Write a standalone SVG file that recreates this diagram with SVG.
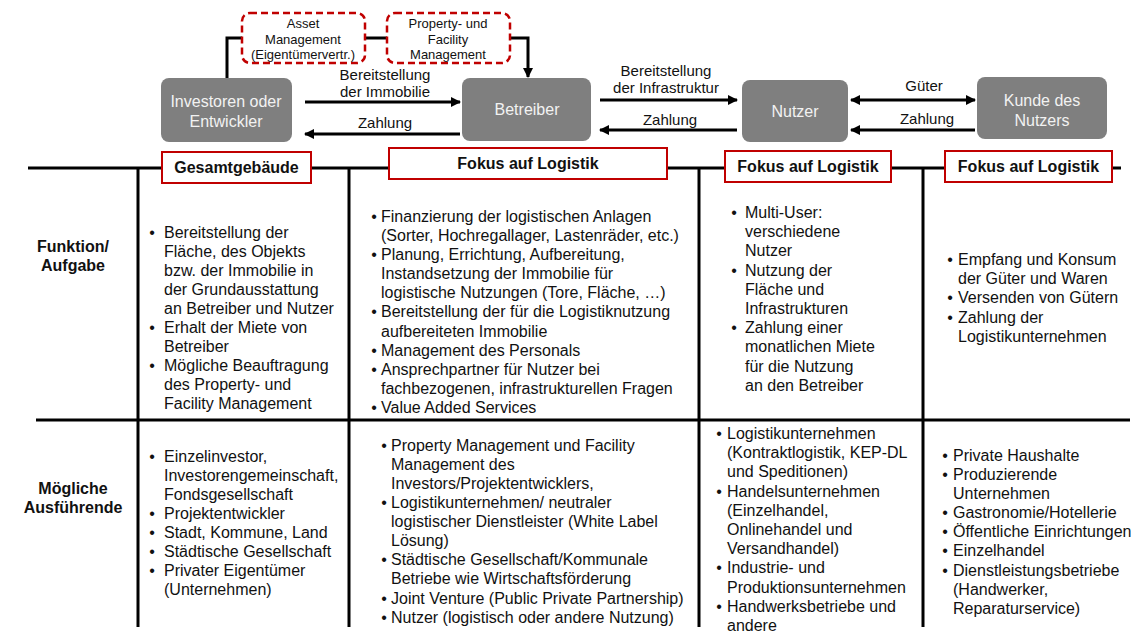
<svg xmlns="http://www.w3.org/2000/svg" width="1136" height="643" viewBox="0 0 1136 643">
<defs>
<marker id="ah" viewBox="0 0 10 10" refX="9" refY="5" markerWidth="3.4" markerHeight="3.4" orient="auto-start-reverse" markerUnits="strokeWidth">
<path d="M0,0 L10,5 L0,10 z" fill="#000"/>
</marker>
<style>
text{font-family:"Liberation Sans",Arial,sans-serif}
.node{fill:#7f7f7f}
.nt{font-size:16px;fill:#f2f2f2;text-anchor:middle}
.dash{fill:#fff;stroke:#c00000;stroke-width:2.5;stroke-dasharray:7 4}
.dt{font-size:13px;fill:#111;text-anchor:middle}
.lab{font-size:15px;fill:#111;text-anchor:middle}
.conn{fill:none;stroke:#000;stroke-width:3}
.grid{fill:none;stroke:#000;stroke-width:3}
.hbox{fill:#fff;stroke:#c00000;stroke-width:2}
.ht{font-size:16px;font-weight:bold;fill:#111;text-anchor:middle}
.rl{font-size:16px;font-weight:bold;fill:#111;text-anchor:middle}
.b{font-size:16px;fill:#111}
.bu{font-size:16px;fill:#111;text-anchor:middle}
</style>
</defs>
<rect width="1136" height="643" fill="#fff"/>

<g id="connectors">
<polyline class="conn" points="227,78 227,38 242,38"/>
<line class="conn" x1="365" y1="38" x2="387" y2="38"/>
<polyline class="conn" points="510,38 528,38 528,77" marker-end="url(#ah)"/>
<line class="conn" x1="305" y1="102" x2="460" y2="102" marker-end="url(#ah)"/>
<line class="conn" x1="460" y1="134" x2="305" y2="134" marker-end="url(#ah)"/>
<line class="conn" x1="600" y1="100" x2="737" y2="100" marker-end="url(#ah)"/>
<line class="conn" x1="737" y1="130" x2="600" y2="130" marker-end="url(#ah)"/>
<line class="conn" x1="851" y1="100" x2="975" y2="100" marker-start="url(#ah)" marker-end="url(#ah)"/>
<line class="conn" x1="975" y1="130" x2="851" y2="130" marker-end="url(#ah)"/>
<text class="lab" x="385" y="80">Bereitstellung</text>
<text class="lab" x="385" y="97">der Immobilie</text>
<text class="lab" x="385" y="128">Zahlung</text>
<text class="lab" x="666" y="76">Bereitstellung</text>
<text class="lab" x="666" y="93">der Infrastruktur</text>
<text class="lab" x="670" y="125">Zahlung</text>
<text class="lab" x="924" y="91">Güter</text>
<text class="lab" x="927" y="124">Zahlung</text>
</g>

<g id="asset">
<rect class="dash" x="242" y="13" width="123" height="50" rx="8"/>
<text class="dt" x="303" y="28">Asset</text>
<text class="dt" x="303" y="44">Management</text>
<text class="dt" x="303" y="59">(Eigentümervertr.)</text>
</g>
<g id="property">
<rect class="dash" x="387" y="13" width="123" height="50" rx="8"/>
<text class="dt" x="448" y="28">Property- und</text>
<text class="dt" x="448" y="44">Facility</text>
<text class="dt" x="448" y="59">Management</text>
</g>
<g id="investoren">
<rect class="node" x="161" y="78" width="131" height="64" rx="8"/>
<text class="nt" x="226" y="107">Investoren oder</text>
<text class="nt" x="226" y="127">Entwickler</text>
</g>
<g id="betreiber">
<rect class="node" x="462" y="78" width="129" height="63" rx="8"/>
<text class="nt" x="527" y="115">Betreiber</text>
</g>
<g id="nutzer">
<rect class="node" x="742" y="80" width="106" height="62" rx="8"/>
<text class="nt" x="795" y="117">Nutzer</text>
</g>
<g id="kunde">
<rect class="node" x="977" y="77" width="130" height="62" rx="8"/>
<text class="nt" x="1042" y="106">Kunde des</text>
<text class="nt" x="1042" y="126">Nutzers</text>
</g>

<g id="table">
<line class="grid" x1="28" y1="168" x2="1121" y2="168"/>
<line class="grid" x1="36" y1="420" x2="1130" y2="420"/>
<line class="grid" x1="138" y1="168" x2="138" y2="627"/>
<line class="grid" x1="349" y1="168" x2="349" y2="627"/>
<line class="grid" x1="699" y1="168" x2="699" y2="627"/>
<line class="grid" x1="923" y1="168" x2="923" y2="627"/>
</g>

<g id="h1">
<rect class="hbox" x="162" y="152" width="149" height="31"/>
<text class="ht" x="236.5" y="173">Gesamtgebäude</text>
</g>
<g id="h2">
<rect class="hbox" x="389" y="148" width="278" height="31"/>
<text class="ht" x="528" y="169">Fokus auf Logistik</text>
</g>
<g id="h3">
<rect class="hbox" x="725" y="151" width="166" height="31"/>
<text class="ht" x="808" y="172">Fokus auf Logistik</text>
</g>
<g id="h4">
<rect class="hbox" x="945" y="151" width="167" height="31"/>
<text class="ht" x="1028.5" y="172">Fokus auf Logistik</text>
</g>

<g id="row1-label">
<text class="rl" x="73" y="252">Funktion/</text>
<text class="rl" x="73" y="271">Aufgabe</text>
</g>
<g id="row2-label">
<text class="rl" x="73" y="494">Mögliche</text>
<text class="rl" x="73" y="513">Ausführende</text>
</g>

<g id="r1c1">
<text class="bu" x="152" y="238">•</text>
<text class="bu" x="152" y="333">•</text>
<text class="bu" x="152" y="371">•</text>
<text class="b" x="164" y="238">Bereitstellung der</text>
<text class="b" x="164" y="257">Fläche, des Objekts</text>
<text class="b" x="164" y="276">bzw. der Immobilie in</text>
<text class="b" x="164" y="295">der Grundausstattung</text>
<text class="b" x="164" y="314">an Betreiber und Nutzer</text>
<text class="b" x="164" y="333">Erhalt der Miete von</text>
<text class="b" x="164" y="352">Betreiber</text>
<text class="b" x="164" y="371">Mögliche Beauftragung</text>
<text class="b" x="164" y="390">des Property- und</text>
<text class="b" x="164" y="409">Facility Management</text>
</g>

<g id="r1c2">
<text class="bu" x="374" y="222">•</text>
<text class="bu" x="374" y="260">•</text>
<text class="bu" x="374" y="317">•</text>
<text class="bu" x="374" y="356">•</text>
<text class="bu" x="374" y="375">•</text>
<text class="bu" x="374" y="413">•</text>
<text class="b" x="381" y="222">Finanzierung der logistischen Anlagen</text>
<text class="b" x="381" y="241">(Sorter, Hochregallager, Lastenräder, etc.)</text>
<text class="b" x="381" y="260">Planung, Errichtung, Aufbereitung,</text>
<text class="b" x="381" y="279">Instandsetzung der Immobilie für</text>
<text class="b" x="381" y="298">logistische Nutzungen (Tore, Fläche, …)</text>
<text class="b" x="381" y="317">Bereitstellung der für die Logistiknutzung</text>
<text class="b" x="381" y="337">aufbereiteten Immobilie</text>
<text class="b" x="381" y="356">Management des Personals</text>
<text class="b" x="381" y="375">Ansprechpartner für Nutzer bei</text>
<text class="b" x="381" y="394">fachbezogenen, infrastrukturellen Fragen</text>
<text class="b" x="381" y="413">Value Added Services</text>
</g>

<g id="r1c3">
<text class="bu" x="734" y="218">•</text>
<text class="bu" x="734" y="276">•</text>
<text class="bu" x="734" y="333">•</text>
<text class="b" x="745" y="218">Multi-User:</text>
<text class="b" x="745" y="237">verschiedene</text>
<text class="b" x="745" y="256">Nutzer</text>
<text class="b" x="745" y="276">Nutzung der</text>
<text class="b" x="745" y="295">Fläche und</text>
<text class="b" x="745" y="314">Infrastrukturen</text>
<text class="b" x="745" y="333">Zahlung einer</text>
<text class="b" x="745" y="352">monatlichen Miete</text>
<text class="b" x="745" y="372">für die Nutzung</text>
<text class="b" x="745" y="391">an den Betreiber</text>
</g>

<g id="r1c4">
<text class="bu" x="950" y="265">•</text>
<text class="bu" x="950" y="303">•</text>
<text class="bu" x="950" y="323">•</text>
<text class="b" x="958" y="265">Empfang und Konsum</text>
<text class="b" x="958" y="284">der Güter und Waren</text>
<text class="b" x="958" y="303">Versenden von Gütern</text>
<text class="b" x="958" y="323">Zahlung der</text>
<text class="b" x="958" y="342">Logistikunternehmen</text>
</g>

<g id="r2c1">
<text class="bu" x="152" y="462">•</text>
<text class="bu" x="152" y="519">•</text>
<text class="bu" x="152" y="538">•</text>
<text class="bu" x="152" y="557">•</text>
<text class="bu" x="152" y="576">•</text>
<text class="b" x="164" y="462">Einzelinvestor,</text>
<text class="b" x="164" y="481">Investorengemeinschaft,</text>
<text class="b" x="164" y="500">Fondsgesellschaft</text>
<text class="b" x="164" y="519">Projektentwickler</text>
<text class="b" x="164" y="538">Stadt, Kommune, Land</text>
<text class="b" x="164" y="557">Städtische Gesellschaft</text>
<text class="b" x="164" y="576">Privater Eigentümer</text>
<text class="b" x="164" y="595">(Unternehmen)</text>
</g>

<g id="r2c2">
<text class="bu" x="384" y="451">•</text>
<text class="bu" x="384" y="508">•</text>
<text class="bu" x="384" y="565">•</text>
<text class="bu" x="384" y="604">•</text>
<text class="bu" x="384" y="623">•</text>
<text class="b" x="391" y="451">Property Management und Facility</text>
<text class="b" x="391" y="470">Management des</text>
<text class="b" x="391" y="489">Investors/Projektentwicklers,</text>
<text class="b" x="391" y="508">Logistikunternehmen/ neutraler</text>
<text class="b" x="391" y="527">logistischer Dienstleister (White Label</text>
<text class="b" x="391" y="546">Lösung)</text>
<text class="b" x="391" y="565">Städtische Gesellschaft/Kommunale</text>
<text class="b" x="391" y="584">Betriebe wie Wirtschaftsförderung</text>
<text class="b" x="391" y="604">Joint Venture (Public Private Partnership)</text>
<text class="b" x="391" y="623">Nutzer (logistisch oder andere Nutzung)</text>
</g>

<g id="r2c3">
<text class="bu" x="719" y="439">•</text>
<text class="bu" x="719" y="497">•</text>
<text class="bu" x="719" y="573">•</text>
<text class="bu" x="719" y="612">•</text>
<text class="b" x="727" y="439">Logistikunternehmen</text>
<text class="b" x="727" y="458">(Kontraktlogistik, KEP-DL</text>
<text class="b" x="727" y="477">und Speditionen)</text>
<text class="b" x="727" y="497">Handelsunternehmen</text>
<text class="b" x="727" y="516">(Einzelhandel,</text>
<text class="b" x="727" y="535">Onlinehandel und</text>
<text class="b" x="727" y="554">Versandhandel)</text>
<text class="b" x="727" y="573">Industrie- und</text>
<text class="b" x="727" y="593">Produktionsunternehmen</text>
<text class="b" x="727" y="612">Handwerksbetriebe und</text>
<text class="b" x="727" y="631">andere</text>
</g>

<g id="r2c4">
<text class="bu" x="945" y="461">•</text>
<text class="bu" x="945" y="480">•</text>
<text class="bu" x="945" y="518">•</text>
<text class="bu" x="945" y="537">•</text>
<text class="bu" x="945" y="556">•</text>
<text class="bu" x="945" y="576">•</text>
<text class="b" x="953" y="461">Private Haushalte</text>
<text class="b" x="953" y="480">Produzierende</text>
<text class="b" x="953" y="499">Unternehmen</text>
<text class="b" x="953" y="518">Gastronomie/Hotellerie</text>
<text class="b" x="953" y="537">Öffentliche Einrichtungen</text>
<text class="b" x="953" y="556">Einzelhandel</text>
<text class="b" x="953" y="576">Dienstleistungsbetriebe</text>
<text class="b" x="953" y="595">(Handwerker,</text>
<text class="b" x="953" y="614">Reparaturservice)</text>
</g>
</svg>
